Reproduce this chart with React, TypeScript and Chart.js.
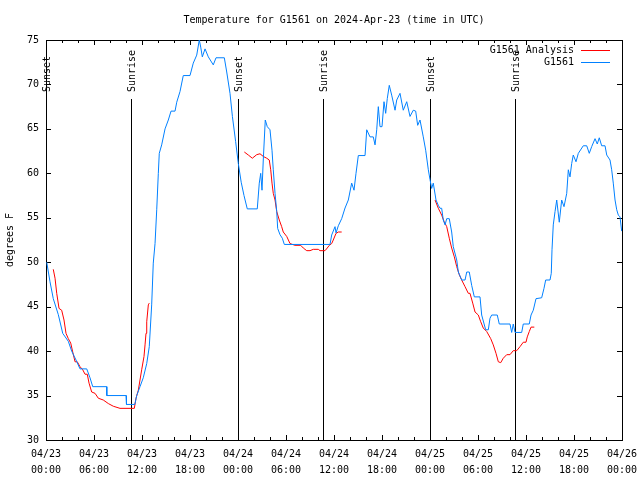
import React, { useEffect, useRef } from 'react';
import { Chart, registerables } from 'chart.js';

Chart.register(...registerables);

const FONT = '"DejaVu Sans Mono", "Liberation Mono", monospace';

const titleText = 'Temperature for G1561 on 2024-Apr-23 (time in UTC)';
const yAxisTitle = 'degrees F';
const seriesNames = ['G1561 Analysis', 'G1561'];
const seriesColors = ['#ff0000', '#0080ff'];

// x axis: hours since 04/23 00:00 UTC
const xTickDates = ['04/23', '04/23', '04/23', '04/23', '04/24', '04/24', '04/24', '04/24', '04/25', '04/25', '04/25', '04/25', '04/26'];
const xTickTimes = ['00:00', '06:00', '12:00', '18:00', '00:00', '06:00', '12:00', '18:00', '00:00', '06:00', '12:00', '18:00', '00:00'];
const yTickValues = [30, 35, 40, 45, 50, 55, 60, 65, 70, 75];

const sunEventHours = [0, 10.62, 24.0, 34.62, 48.0, 58.62];
const sunEventLabels = ['Sunset', 'Sunrise', 'Sunset', 'Sunrise', 'Sunset', 'Sunrise'];

// G1561 Analysis (null = gap)
const analysisHours = [
  0.91, 1.13, 1.34, 1.63, 1.96, 2.25, 2.5, 2.79, 3.09, 3.34, 3.63, 3.91, 4.25, 4.59, 4.88, 5.16, 5.38, 5.71, 6.13, 6.54,
  7.16, 7.79, 8.41, 9.25, 11.04, 11.25, 11.54, 11.96, 12.25, 12.38, 12.5, 12.59, 12.79, 12.91,
  18.0,
  24.79, 25.29, 25.79, 26.34, 26.75, 27.16, 27.59, 27.91, 28.09, 28.25, 28.41, 28.63, 28.84, 29.16, 29.46, 29.66, 30.09,
  30.5, 31.13, 31.84, 32.16, 32.59, 33.0, 33.41, 34.04, 34.25, 34.88, 35.16, 35.41, 35.71, 35.91, 36.25, 36.54, 36.96,
  42.0,
  48.63, 49.04, 49.46, 49.75, 50.09, 50.41, 50.71, 51.04, 51.34, 51.66, 51.96, 52.38, 52.79, 53.0, 53.34, 53.63, 54.04,
  54.34, 54.66, 55.09, 55.59, 55.91, 56.25, 56.54, 56.84, 57.16, 57.59, 58.0, 58.41, 58.84, 59.25, 59.66, 60.0, 60.16,
  60.41, 60.63, 61.04,
];
const analysisTemps = [
  49.2, 48.2, 46.5, 44.8, 44.6, 43.5, 42.0, 41.4, 40.9, 39.9, 38.8, 38.8, 38.25, 37.9, 37.4, 37.4, 36.4, 35.4, 35.25, 34.7,
  34.5, 34.1, 33.8, 33.56, 33.56, 34.7, 35.6, 37.9, 39.4, 40.7, 42.0, 43.3, 45.2, 45.4,
  null,
  62.4, 62.06, 61.7, 62.1, 62.2, 61.9, 61.7, 61.5, 60.4, 58.9, 57.75, 57.0, 55.7, 54.75, 54.0, 53.4, 52.9,
  52.1, 51.9, 51.9, 51.6, 51.3, 51.3, 51.45, 51.45, 51.3, 51.3, 51.6, 51.9, 52.1, 52.5, 53.25, 53.4, 53.4,
  null,
  57.0, 56.07, 55.3, 54.6, 54.0, 52.7, 51.6, 50.6, 49.5, 48.6, 48.0, 47.25, 46.5, 46.5, 45.4, 44.4, 44.06,
  43.3, 42.6, 42.2, 41.4, 40.7, 39.75, 38.8, 38.7, 39.2, 39.6, 39.6, 40.05, 40.05, 40.5, 41.0, 41.0, 41.6,
  42.2, 42.7, 42.7,
];

// G1561 observations
const obsHours = [
  0.09, 0.5, 0.91, 1.54, 2.09, 2.79, 3.21, 3.75, 4.25, 5.09, 5.5, 5.84, 7.59, 7.6, 10.0, 10.06, 11.1, 11.34, 11.75, 12.16,
  12.59, 12.91, 13.21, 13.41, 13.63, 13.84, 14.04, 14.16, 14.46, 14.88, 15.29, 15.63, 16.13, 16.34, 16.75, 17.16, 18.0, 18.41,
  18.84, 19.16, 19.34, 19.54, 19.88, 20.29, 20.91, 21.25, 22.29, 22.59, 23.0, 23.3, 23.7, 24.04, 24.4, 24.75, 25.16, 26.41,
  26.66, 26.84, 27.0, 27.16, 27.41, 27.66, 28.0, 28.25, 28.41, 28.63, 28.84, 28.96, 29.25, 29.54, 29.79, 35.5, 35.71, 36.13,
  36.25, 36.54, 36.96, 37.38, 37.79, 38.21, 38.5, 38.75, 39.04, 39.88, 40.09, 40.5, 40.91, 41.13, 41.34, 41.54, 41.75, 42.0,
  42.25, 42.46, 42.66, 42.91, 43.21, 43.63, 43.84, 44.25, 44.66, 45.09, 45.5, 45.91, 46.21, 46.46, 46.75, 47.16, 47.46, 47.79,
  48.0, 48.21, 48.41, 48.75, 49.04, 49.25, 49.46, 49.66, 49.88, 50.09, 50.41, 50.71, 50.91, 51.34, 51.54, 51.96, 52.38, 52.59,
  52.91, 53.21, 53.54, 54.25, 54.46, 54.96, 55.29, 55.5, 55.71, 56.41, 56.66, 58.0, 58.21, 58.41, 58.63, 59.46, 59.66, 60.41,
  60.63, 60.91, 61.25, 61.96, 62.25, 62.46, 63.0, 63.16, 63.25, 63.41, 63.63, 63.84, 64.16, 64.46, 64.75, 65.09, 65.29, 65.5,
  65.71, 65.91, 66.25, 66.54, 67.16, 67.59, 67.91, 68.21, 68.63, 68.91, 69.16, 69.46, 69.88, 70.09, 70.5, 70.71, 70.91, 71.13,
  71.34, 71.54, 71.75, 71.96,
];
const obsTemps = [
  50.0, 47.8, 45.9, 44.1, 42.0, 41.1, 40.0, 39.0, 38.0, 38.0, 37.0, 36.0, 36.0, 35.0, 35.0, 34.0, 34.0, 35.0, 36.0, 37.0,
  38.6, 40.5, 45.2, 49.9, 52.1, 55.9, 60.0, 62.25, 63.2, 65.0, 66.0, 67.0, 67.0, 68.0, 69.2, 71.0, 71.0, 72.4,
  73.3, 75.0, 74.2, 73.1, 74.0, 73.1, 72.2, 73.0, 73.0, 71.4, 69.0, 66.4, 63.6, 61.1, 59.0, 57.5, 56.0, 56.0,
  58.9, 60.0, 58.1, 61.5, 66.0, 65.25, 64.9, 62.6, 60.4, 57.75, 55.7, 53.8, 53.1, 52.7, 52.0, 52.0, 53.06, 54.0,
  53.3, 54.1, 54.9, 56.1, 57.0, 58.9, 58.1, 60.0, 62.0, 62.0, 64.9, 64.1, 64.1, 63.2, 64.9, 67.5, 65.25, 65.25,
  68.06, 66.75, 68.4, 69.9, 68.8, 67.1, 68.25, 69.0, 67.1, 68.06, 66.4, 67.1, 67.0, 65.4, 66.0, 64.1, 62.6, 60.4,
  59.3, 58.3, 58.9, 57.0, 56.4, 56.07, 56.07, 54.75, 54.2, 54.9, 54.9, 53.4, 51.75, 50.25, 48.9, 48.0, 48.0, 48.9,
  48.9, 47.4, 46.1, 46.1, 44.06, 42.4, 42.4, 43.7, 44.06, 44.06, 43.05, 43.05, 42.1, 43.05, 42.1, 42.1, 43.05, 43.05,
  44.06, 44.6, 45.9, 46.0, 47.07, 48.0, 48.0, 48.75, 51.4, 54.2, 55.7, 57.0, 54.5, 57.0, 56.25, 57.75, 60.4, 59.6,
  61.1, 62.06, 61.3, 62.25, 63.1, 63.1, 62.25, 63.0, 63.9, 63.3, 64.0, 63.1, 63.1, 62.06, 61.5, 60.4, 58.9, 57.0,
  55.9, 55.3, 55.1, 53.5,
];

const decorPlugin = {
  id: 'gnuplotDecor',
  beforeDatasetsDraw(chart: any) {
    const { ctx, chartArea: a, scales } = chart;
    const xs = scales.x;
    const ys = scales.y;
    ctx.save();
    ctx.strokeStyle = '#000000';
    ctx.lineWidth = 1;
    // frame
    ctx.strokeRect(a.left + 0.5, a.top + 0.5, a.right - a.left, a.bottom - a.top);
    ctx.beginPath();
    // x ticks (major every 6 h, minor every 2 h), inward, mirrored
    for (let h = xs.min; h <= xs.max; h += 2) {
      const px = Math.round(xs.getPixelForValue(h)) + 0.5;
      const len = h % 6 === 0 ? 5 : 3;
      ctx.moveTo(px, a.bottom);
      ctx.lineTo(px, a.bottom - len);
      ctx.moveTo(px, a.top);
      ctx.lineTo(px, a.top + len);
    }
    // y ticks
    yTickValues.forEach((v) => {
      const py = Math.round(ys.getPixelForValue(v)) + 0.5;
      ctx.moveTo(a.left, py);
      ctx.lineTo(a.left + 5, py);
      ctx.moveTo(a.right, py);
      ctx.lineTo(a.right - 5, py);
    });
    ctx.stroke();

    // sunrise / sunset lines
    const lineTop = Math.round(a.top + (a.bottom - a.top) * 0.1475);
    ctx.font = '10px ' + FONT;
    ctx.fillStyle = '#000000';
    sunEventHours.forEach((h, i) => {
      const px = Math.round(xs.getPixelForValue(h)) + 0.5;
      ctx.beginPath();
      ctx.moveTo(px, lineTop);
      ctx.lineTo(px, a.bottom);
      ctx.stroke();
      ctx.save();
      ctx.translate(px + 1, lineTop - 7);
      ctx.rotate(-Math.PI / 2);
      ctx.textAlign = 'left';
      ctx.textBaseline = 'middle';
      ctx.fillText(sunEventLabels[i], 0, 0);
      ctx.restore();
    });

    // title
    ctx.textAlign = 'center';
    ctx.textBaseline = 'middle';
    ctx.fillText(titleText, (a.left + a.right) / 2, 20);
    ctx.restore();
  },
  afterDatasetsDraw(chart: any) {
    const { ctx, chartArea: a } = chart;
    ctx.save();
    ctx.font = '10px ' + FONT;
    ctx.fillStyle = '#000000';
    ctx.textAlign = 'right';
    ctx.textBaseline = 'middle';
    seriesNames.forEach((name, i) => {
      const yy = a.top + 10 + i * 12;
      ctx.fillText(name, a.right - 48, yy);
      ctx.strokeStyle = seriesColors[i];
      ctx.lineWidth = 1;
      ctx.beginPath();
      ctx.moveTo(a.right - 41, Math.round(yy) + 0.5);
      ctx.lineTo(a.right - 12, Math.round(yy) + 0.5);
      ctx.stroke();
    });
    ctx.restore();
  },
};

export default function App() {
  const canvasRef = useRef<HTMLCanvasElement | null>(null);

  useEffect(() => {
    if (!canvasRef.current) return;
    const chart = new Chart(canvasRef.current, {
      type: 'line',
      data: {
        datasets: [
          {
            label: seriesNames[1],
            data: obsHours.map((h, i) => ({ x: h, y: obsTemps[i] })),
            borderColor: seriesColors[1],
            backgroundColor: seriesColors[1],
            borderWidth: 1,
            pointRadius: 0,
            tension: 0,
            order: 0,
          },
          {
            label: seriesNames[0],
            data: analysisHours.map((h, i) => ({ x: h, y: analysisTemps[i] })),
            borderColor: seriesColors[0],
            backgroundColor: seriesColors[0],
            borderWidth: 1,
            pointRadius: 0,
            tension: 0,
            spanGaps: false,
            order: 1,
          },
        ],
      },
      options: {
        animation: false,
        responsive: false,
        devicePixelRatio: 1,
        layout: { padding: { top: 40, right: 18, left: 0, bottom: 0 } },
        plugins: {
          legend: { display: false },
          title: { display: false },
          tooltip: { enabled: false },
        },
        scales: {
          x: {
            type: 'linear',
            min: 0,
            max: 72,
            grid: { display: false, drawTicks: false },
            border: { display: false },
            ticks: {
              stepSize: 6,
              autoSkip: false,
              maxRotation: 0,
              minRotation: 0,
              padding: 6,
              color: '#000000',
              font: { family: FONT, size: 10, lineHeight: 1.6 },
              callback: (v: any) => {
                const idx = Math.round(Number(v) / 6);
                return [xTickDates[idx], xTickTimes[idx]];
              },
            },
            afterFit: (scale: any) => {
              scale.height = 40;
              scale.paddingLeft = 0;
              scale.paddingRight = 0;
            },
          },
          y: {
            type: 'linear',
            min: 30,
            max: 75,
            grid: { display: false, drawTicks: false },
            border: { display: false },
            ticks: {
              stepSize: 5,
              padding: 7,
              color: '#000000',
              font: { family: FONT, size: 10 },
            },
            title: {
              display: true,
              text: yAxisTitle,
              color: '#000000',
              font: { family: FONT, size: 10 },
              padding: { top: 4, bottom: 0 },
            },
            afterFit: (scale: any) => {
              scale.width = 46;
              scale.paddingTop = 0;
              scale.paddingBottom = 0;
            },
          },
        },
      },
      plugins: [decorPlugin],
    });
    return () => chart.destroy();
  }, []);

  return (
    <div style={{ position: 'absolute', left: 0, top: 0, width: 640, height: 480, background: '#ffffff' }}>
      <canvas ref={canvasRef} width={640} height={480} style={{ width: 640, height: 480, display: 'block' }} />
    </div>
  );
}
